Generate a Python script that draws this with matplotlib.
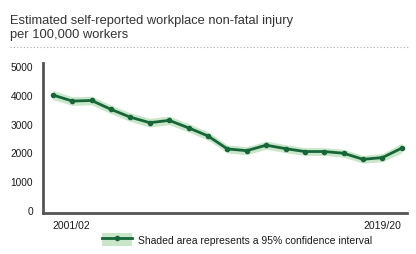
import matplotlib.pyplot as plt
import numpy as np
from matplotlib.patches import Patch
from matplotlib.lines import Line2D
from matplotlib.transforms import ScaledTranslation

plt.rcParams['font.family'] = ['Liberation Sans', 'DejaVu Sans']

years = ['2001/02', '2002/03', '2003/04', '2004/05', '2005/06', '2006/07', '2007/08',
         '2008/09', '2009/10', '2010/11', '2011/12', '2012/13', '2013/14', '2014/15',
         '2015/16', '2016/17', '2017/18', '2018/19', '2019/20']
rate = [3990, 3780, 3800, 3490, 3220, 3030, 3110, 2850, 2570, 2600,
        2120, 2060, 2250, 2130, 2030, 2030, 1970, 1760, 1820, 2150]
rate = rate[:9] + rate[10:]  # point 2009/10 was read twice
ci_half = [160, 150, 150, 150, 150, 150, 150, 145, 145, 140,
           140, 140, 140, 135, 135, 135, 135, 140, 170]
shown_ticks = ['2001/02', '2019/20']
yticks = [0, 1000, 2000, 3000, 4000, 5000]

line_col = '#17663a'
band_col = '#c9e6c9'

fig = plt.figure(figsize=(4.16, 2.55), dpi=100)
ax = fig.add_axes([0.103, 0.161, 0.875, 0.588])

x = np.arange(len(years))
lo = np.array(rate) - np.array(ci_half)
hi = np.array(rate) + np.array(ci_half)
ax.fill_between(x, lo, hi, color=band_col, lw=0)
ax.plot(x, rate, color=line_col, lw=2, marker='o', ms=3)

ax.set_xlim(-0.52, 18.26)
ax.set_ylim(-100, 5100)
ax.set_yticks(yticks)
ax.set_yticklabels([str(v) for v in yticks], fontsize=7.3, color='#1a1a1a')
ax.set_xticks([years.index(t) for t in shown_ticks])
xl = ax.set_xticklabels(shown_ticks, fontsize=7.5, color='#1a1a1a')
xl[0].set_ha('left')
xl[0].set_transform(xl[0].get_transform() + ScaledTranslation(-0.04, 0, fig.dpi_scale_trans))
xl[-1].set_ha('right')
ax.tick_params(length=0, pad=5)
ax.tick_params(axis='y', pad=7)
for s in ['top', 'right']:
    ax.spines[s].set_visible(False)
for s in ['left', 'bottom']:
    ax.spines[s].set_color('#555555')
    ax.spines[s].set_linewidth(2)

fig.text(0.024, 0.94, 'Estimated self-reported workplace non-fatal injury\nper 100,000 workers',
         fontsize=9.3, color='#333333', va='top', linespacing=1.15)
fig.add_artist(Line2D([0.024, 0.985], [0.81, 0.81], transform=fig.transFigure,
                      color='#aaaaaa', lw=0.8, ls=(0, (1, 2))))

handle = (Patch(facecolor=band_col, edgecolor='none'),
          Line2D([], [], color=line_col, lw=2, marker='o', ms=3))
fig.legend([handle], ['Shaded area represents a 95% confidence interval'],
           loc='center left', bbox_to_anchor=(0.232, 0.058), frameon=False,
           fontsize=7.5, handlelength=2.9, handleheight=1.6, handletextpad=0.6,
           borderpad=0, labelcolor='#1a1a1a')

fig.savefig('out.png', dpi=100)
